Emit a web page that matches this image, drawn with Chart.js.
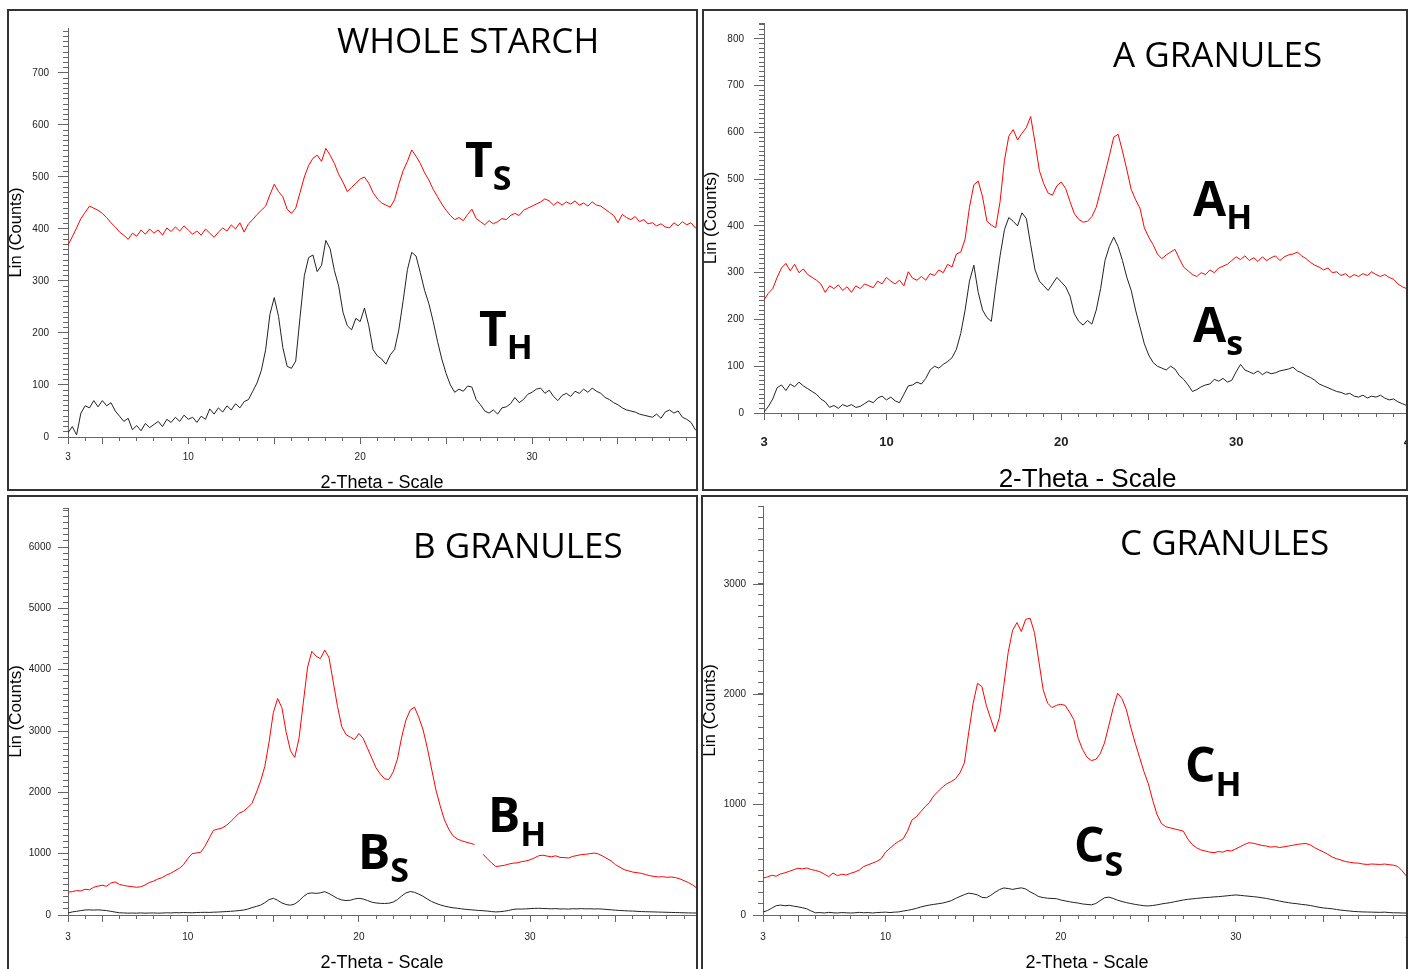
<!DOCTYPE html>
<html>
<head>
<meta charset="utf-8">
<script src="https://cdn.jsdelivr.net/npm/chart.js@4.4.1/dist/chart.umd.min.js"></script>
<style>
  body { margin: 0; width: 1410px; height: 969px; overflow: hidden; background: #fff; position: relative; }
  .panel { position: absolute; box-sizing: border-box; border: 2px solid #333; overflow: hidden; background: #fff; }
  .panel canvas { position: absolute; left: 0; top: 0; }
  .title { position: absolute; font-family: 'Open Sans', sans-serif; font-size: 35px; line-height: 35px; white-space: nowrap; color: #000; }
  .tag { position: absolute; font-family: 'Open Sans', sans-serif; font-weight: 700; font-size: 48px; line-height: 48px; white-space: nowrap; color: #000; }
  .tag span { font-size: 34px; position: relative; }
</style>
</head>
<body>
<div class="panel" style="left:7px;top:9px;width:691px;height:482px"><canvas id="c1" width="687" height="478"></canvas></div>
<div class="panel" style="left:702px;top:9px;width:706px;height:482px"><canvas id="c2" width="708" height="478"></canvas></div>
<div class="panel" style="left:7px;top:495px;width:691px;height:480px"><canvas id="c3" width="687" height="476"></canvas></div>
<div class="panel" style="left:701px;top:495px;width:707px;height:480px"><canvas id="c4" width="708" height="476"></canvas></div>

<div class="title" style="left:337px;top:22px">WHOLE STARCH</div>
<div class="title" style="left:1113px;top:36px">A GRANULES</div>
<div class="title" style="left:413px;top:527px">B GRANULES</div>
<div class="title" style="left:1120px;top:524px">C GRANULES</div>

<div class="tag" style="left:465px;top:135px">T<span style="top:13px">S</span></div>
<div class="tag" style="left:479px;top:304px">T<span style="top:13px">H</span></div>
<div class="tag" style="left:1193px;top:174px">A<span style="top:13px">H</span></div>
<div class="tag" style="left:1193px;top:300px">A<span style="top:13px">s</span></div>
<div class="tag" style="left:358px;top:827px">B<span style="top:13px">S</span></div>
<div class="tag" style="left:488px;top:790px">B<span style="top:14px">H</span></div>
<div class="tag" style="left:1185px;top:740px">C<span style="top:14px">H</span></div>
<div class="tag" style="left:1074px;top:820px">C<span style="top:14px">S</span></div>

<script>
// 2-theta positions shared by every pattern
const angles = [
  3, 3.25, 3.5, 3.75, 4, 4.25, 4.5, 4.75, 5, 5.25, 5.5, 5.75, 6, 6.25, 6.5, 6.75, 7, 7.25, 7.5, 7.75,
  8, 8.25, 8.5, 8.75, 9, 9.25, 9.5, 9.75, 10, 10.25, 10.5, 10.75, 11, 11.25, 11.5, 11.75, 12, 12.25, 12.5, 12.75,
  13, 13.25, 13.5, 13.75, 14, 14.25, 14.5, 14.75, 15, 15.25, 15.5, 15.75, 16, 16.25, 16.5, 16.75, 17, 17.25, 17.5, 17.75,
  18, 18.25, 18.5, 18.75, 19, 19.25, 19.5, 19.75, 20, 20.25, 20.5, 20.75, 21, 21.25, 21.5, 21.75, 22, 22.25, 22.5, 22.75,
  23, 23.25, 23.5, 23.75, 24, 24.25, 24.5, 24.75, 25, 25.25, 25.5, 25.75, 26, 26.25, 26.5, 26.75, 27, 27.25, 27.5, 27.75,
  28, 28.25, 28.5, 28.75, 29, 29.25, 29.5, 29.75, 30, 30.25, 30.5, 30.75, 31, 31.25, 31.5, 31.75, 32, 32.25, 32.5, 32.75,
  33, 33.25, 33.5, 33.75, 34, 34.25, 34.5, 34.75, 35, 35.25, 35.5, 35.75, 36, 36.25, 36.5, 36.75, 37, 37.25, 37.5, 37.75,
  38, 38.25, 38.5, 38.75, 39, 39.25, 39.5, 39.75, 40,
];

// whole starch
const wholeStarchTs = [
  369, 385, 402, 420, 432, 444, 440, 436, 430, 422, 412, 404, 394, 388, 380, 392, 386, 398, 390, 400,
  392, 398, 388, 402, 395, 404, 396, 406, 398, 390, 396, 388, 400, 392, 384, 394, 402, 396, 408, 400,
  412, 394, 410, 418, 428, 436, 444, 466, 486, 472, 462, 438, 430, 440, 470, 500, 522, 536, 542, 530,
  555, 542, 526, 505, 490, 472, 480, 488, 496, 500, 488, 470, 458, 450, 446, 442, 456, 486, 512, 530,
  552, 540, 526, 508, 494, 476, 462, 448, 436, 426, 418, 422, 416, 428, 438, 420, 414, 408, 416, 410,
  414, 420, 418, 426, 430, 426, 436, 440, 444, 448, 452, 458, 454, 446, 452, 446, 452, 448, 454, 446,
  450, 444, 452, 446, 444, 438, 432, 426, 412, 428, 422, 418, 424, 414, 418, 410, 412, 406, 410, 404,
  402, 412, 406, 414, 408, 412, 402, 404, 400,
];
const wholeStarchTh = [
  8, 20, 4, 46, 60, 56, 70, 58, 70, 60, 66, 50, 40, 30, 36, 14, 22, 12, 26, 18,
  24, 30, 20, 34, 28, 38, 30, 42, 34, 38, 28, 40, 34, 54, 44, 56, 48, 60, 52, 64,
  56, 68, 72, 88, 104, 128, 168, 236, 268, 232, 172, 136, 132, 146, 230, 310, 345, 350, 318, 330,
  378, 362, 320, 290, 240, 214, 206, 228, 222, 248, 214, 168, 156, 150, 140, 158, 168, 206, 262, 322,
  355, 348, 316, 282, 256, 222, 184, 150, 122, 100, 86, 92, 88, 98, 96, 72, 62, 50, 46, 52,
  44, 56, 58, 64, 76, 66, 72, 82, 86, 92, 94, 84, 90, 78, 70, 80, 84, 78, 88, 84,
  92, 86, 94, 88, 84, 76, 72, 66, 62, 56, 52, 50, 48, 44, 42, 40, 38, 44, 36, 48,
  52, 46, 50, 38, 34, 28, 14, 10, 8,
];

// A granules
const aGranulesAh = [
  242, 256, 266, 290, 310, 320, 304, 318, 300, 308, 296, 290, 284, 276, 258, 272, 266, 274, 262, 270,
  258, 272, 266, 276, 272, 268, 282, 276, 290, 282, 276, 284, 272, 302, 288, 284, 292, 284, 298, 294,
  306, 300, 318, 312, 340, 344, 372, 440, 488, 496, 462, 410, 402, 396, 452, 540, 592, 606, 584, 598,
  610, 634, 578, 518, 490, 470, 466, 486, 494, 480, 452, 426, 414, 408, 410, 420, 440, 476, 512, 550,
  590, 596, 560, 520, 478, 456, 438, 396, 376, 360, 340, 330, 338, 344, 350, 330, 312, 304, 296, 292,
  300, 296, 306, 300, 310, 314, 318, 326, 334, 328, 336, 326, 332, 324, 334, 326, 332, 336, 326, 334,
  338, 340, 344, 336, 330, 322, 316, 312, 306, 310, 300, 302, 294, 298, 290, 296, 292, 298, 294, 302,
  296, 292, 296, 290, 286, 276, 270, 266, 264,
];
const aGranulesAs = [
  2, 14, 30, 54, 60, 48, 62, 56, 66, 58, 52, 46, 40, 30, 24, 12, 16, 10, 18, 14,
  18, 12, 14, 20, 26, 22, 32, 36, 28, 34, 26, 22, 40, 58, 60, 66, 62, 74, 92, 100,
  96, 104, 110, 118, 136, 170, 220, 282, 316, 258, 220, 204, 196, 270, 336, 392, 418, 410, 400, 428,
  416, 360, 306, 282, 272, 262, 276, 290, 280, 270, 250, 212, 196, 188, 198, 190, 220, 266, 326, 356,
  376, 356, 326, 290, 262, 220, 184, 148, 124, 108, 100, 96, 92, 100, 94, 80, 72, 60, 46, 50,
  56, 60, 62, 72, 68, 74, 66, 70, 88, 104, 92, 88, 84, 90, 82, 88, 84, 86, 90, 92,
  94, 98, 90, 86, 80, 76, 70, 62, 58, 54, 50, 46, 44, 40, 42, 36, 34, 38, 32, 36,
  34, 38, 32, 28, 30, 24, 20, 16, 14,
];

// B granules (null = gap in the trace)
const bGranulesBh = [
  375, 380, 398, 392, 420, 410, 452, 470, 486, 468, 520, 540, 500, 482, 470, 462, 452, 460, 488, 530,
  552, 586, 610, 650, 680, 720, 760, 820, 920, 1000, 1012, 1020, 1120, 1250, 1380, 1400, 1418, 1460, 1520, 1590,
  1660, 1690, 1750, 1820, 1990, 2180, 2420, 2820, 3300, 3530, 3380, 2980, 2680, 2570, 2880, 3460, 4040, 4300, 4220, 4180,
  4320, 4200, 3800, 3400, 3070, 2940, 2900, 2860, 2960, 2880, 2720, 2560, 2400, 2300, 2220, 2210, 2330, 2540, 2900, 3180,
  3340, 3390, 3220, 3020, 2720, 2380, 2040, 1780, 1550, 1400, 1290, 1240, 1210, 1190, 1170, 1150, null, 990, 920, 850,
  790, 800, 810, 830, 845, 850, 870, 880, 900, 930, 965, 975, 960, 950, 965, 940, 935, 930, 955, 970,
  985, 990, 1000, 1010, 995, 960, 920, 880, 820, 780, 740, 720, 700, 690, 680, 660, 640, 630, 620, 625,
  615, 620, 610, 590, 560, 530, 490, 440, 420,
];
const bGranulesBs = [
  33, 50, 60, 72, 82, 84, 80, 84, 78, 72, 60, 48, 36, 34, 30, 32, 30, 34, 30, 32,
  34, 30, 32, 36, 34, 38, 36, 40, 38, 36, 40, 42, 44, 42, 46, 48, 52, 56, 60, 66,
  72, 80, 96, 120, 140, 160, 200, 250, 272, 240, 196, 170, 160, 180, 230, 300, 350, 360, 352, 362,
  380, 350, 310, 270, 245, 236, 240, 262, 272, 260, 236, 210, 196, 190, 188, 192, 210, 250, 310, 360,
  382, 370, 340, 305, 260, 220, 190, 165, 145, 130, 118, 110, 100, 92, 86, 80, 74, 70, 64, 56,
  50, 54, 62, 74, 90, 98, 96, 100, 104, 108, 110, 106, 104, 100, 104, 98, 100, 96, 102, 100,
  104, 100, 102, 98, 100, 96, 90, 84, 78, 74, 70, 66, 64, 60, 56, 54, 52, 50, 48, 46,
  44, 42, 40, 38, 36, 34, 33, 32, 30,
];

// C granules
const cGranulesCh = [
  335, 345, 360, 352, 372, 382, 396, 410, 424, 418, 426, 412, 404, 392, 370, 348, 380, 356, 370, 362,
  378, 390, 408, 440, 455, 470, 486, 510, 570, 605, 640, 668, 690, 760, 860, 890, 935, 980, 1020, 1080,
  1120, 1160, 1190, 1210, 1235, 1290, 1380, 1660, 1920, 2100, 2070, 1900, 1780, 1660, 1790, 2080, 2380, 2580, 2650, 2570,
  2680, 2690, 2560, 2300, 2040, 1920, 1880, 1900, 1910, 1900, 1840, 1770, 1600, 1500, 1430, 1400, 1410, 1460, 1560, 1720,
  1880, 2010, 1960, 1860, 1700, 1560, 1430, 1300, 1190, 1040, 910, 830, 800, 790, 780, 770, 760, 690, 640, 610,
  590, 580, 570, 565, 575, 570, 585, 580, 600, 620, 640, 655, 650, 640, 630, 625, 615, 620, 612, 618,
  625, 632, 640, 645, 648, 635, 610, 590, 572, 550, 525, 510, 498, 485, 478, 472, 470, 462, 458, 462,
  460, 458, 462, 456, 452, 440, 400, 350, 330,
];
const cGranulesCs = [
  27, 40, 62, 84, 90, 84, 88, 80, 74, 66, 56, 36, 20, 22, 18, 24, 20, 18, 22, 20,
  18, 20, 24, 20, 22, 18, 22, 24, 26, 22, 26, 28, 36, 42, 50, 60, 72, 82, 90, 96,
  102, 108, 118, 130, 150, 168, 185, 198, 192, 182, 160, 156, 178, 206, 230, 245, 240, 232, 240, 246,
  236, 210, 190, 166, 158, 152, 150, 148, 136, 128, 120, 114, 108, 100, 96, 92, 104, 130, 156, 162,
  150, 134, 122, 112, 104, 96, 90, 84, 82, 86, 92, 100, 106, 112, 120, 128, 136, 142, 146, 150,
  154, 158, 160, 164, 166, 170, 174, 178, 182, 178, 174, 170, 166, 162, 156, 150, 142, 134, 126, 118,
  112, 106, 102, 96, 92, 86, 78, 70, 64, 60, 56, 50, 44, 40, 36, 32, 30, 28, 27, 26,
  25, 24, 26, 22, 20, 20, 18, 18, 16,
];

// tick labels
const majorAngleTicks = [3, 5, 10, 15, 20, 25, 30, 35, 40];
const labelledAngles = [3, 10, 20, 30, 40];
const wholeStarchCounts = [0, 100, 200, 300, 400, 500, 600, 700];
const aGranulesCounts = [0, 100, 200, 300, 400, 500, 600, 700, 800];
const bGranulesCounts = [0, 1000, 2000, 3000, 4000, 5000, 6000];
const cGranulesCounts = [0, 1000, 2000, 3000];

Chart.defaults.font.family = "'Liberation Sans', Arial, sans-serif";
const axisColor = '#666';

function points(values) {
  return angles.map((a, i) => ({ x: a, y: values[i] }));
}

// keep the plot area exactly where the axes sit in the picture
function noPad(s) {
  s.paddingLeft = 0;
  s.paddingRight = 0;
  s.paddingTop = 0;
  s.paddingBottom = 0;
}

function makeChart(id, p) {
  return new Chart(document.getElementById(id), {
    type: 'line',
    data: {
      datasets: [
        { data: points(p.red), borderColor: '#ff0000', borderWidth: 1, pointRadius: 0, xAxisID: 'x', yAxisID: 'y' },
        { data: points(p.black), borderColor: '#222', borderWidth: 1, pointRadius: 0, xAxisID: 'x', yAxisID: 'y' },
      ],
    },
    options: {
      responsive: false,
      animation: false,
      events: [],
      layout: { autoPadding: false, padding: { top: p.top, right: p.right, bottom: 0, left: 0 } },
      plugins: { legend: { display: false }, tooltip: { enabled: false } },
      scales: {
        x: {
          type: 'linear', axis: 'x', position: 'bottom', weight: 1, bounds: 'data',
          min: 3, max: p.xMax,
          afterBuildTicks: s => { s.ticks = majorAngleTicks.filter(v => v <= p.xMax).map(v => ({ value: v })); },
          ticks: {
            autoSkip: false, maxRotation: 0, padding: p.xPad, color: '#222',
            font: { size: p.xFont, weight: p.xBold ? 'bold' : 'normal' },
            callback: v => labelledAngles.includes(v) ? String(v) : '',
          },
          grid: { drawOnChartArea: false, tickLength: 7, color: axisColor },
          border: { color: axisColor },
          title: { display: true, text: '2-Theta - Scale', color: '#000', font: { size: p.xTitle, lineHeight: 1 }, padding: { top: 0, bottom: p.xTitlePad } },
          afterFit: s => { s.height = p.bottomH; noPad(s); },
        },
        xMinor: {
          type: 'linear', axis: 'x', position: 'bottom', weight: 0, bounds: 'data',
          min: 3, max: p.xMax,
          ticks: { stepSize: 1, display: false, autoSkip: false, includeBounds: false },
          grid: { drawOnChartArea: false, tickLength: 4, color: axisColor },
          border: { display: false },
          afterFit: s => { s.height = 0; noPad(s); },
        },
        y: {
          type: 'linear', axis: 'y', position: 'left', weight: 1, bounds: 'data',
          min: 0, max: p.yMax,
          afterBuildTicks: s => { s.ticks = p.yTicks.map(v => ({ value: v })); },
          ticks: { autoSkip: false, padding: p.yPad, color: '#222', font: { size: 10 }, callback: v => String(v) },
          grid: { drawOnChartArea: false, tickLength: 10, color: axisColor },
          border: { color: axisColor },
          title: { display: true, text: 'Lin (Counts)', color: '#000', font: { size: p.yTitle, lineHeight: 1 }, padding: { top: -1, bottom: 0 } },
          afterFit: s => { s.width = p.left; noPad(s); },
        },
        yMinor: {
          type: 'linear', axis: 'y', position: 'left', weight: 0, bounds: 'data',
          min: 0, max: p.yMax,
          ticks: { stepSize: p.yMinor, display: false, autoSkip: false, includeBounds: false },
          grid: { drawOnChartArea: false, tickLength: 5, color: axisColor },
          border: { display: false },
          afterFit: s => { s.width = 0; noPad(s); },
        },
      },
    },
  });
}

makeChart('c1', {
  red: wholeStarchTs, black: wholeStarchTh, yTicks: wholeStarchCounts,
  xMax: 39.54, yMax: 786.5, yMinor: 10,
  left: 59, top: 17, right: 0, bottomH: 52,
  xFont: 10, xBold: false, xPad: 7, yPad: 9, xTitle: 18, xTitlePad: -3, yTitle: 16.5,
});
makeChart('c2', {
  red: aGranulesAh, black: aGranulesAs, yTicks: aGranulesCounts,
  xMax: 40, yMax: 834, yMinor: 10,
  left: 60, top: 12, right: 1, bottomH: 76,
  xFont: 13, xBold: true, xPad: 15, yPad: 10, xTitle: 26, xTitlePad: -4, yTitle: 17,
});
makeChart('c3', {
  red: bGranulesBh, black: bGranulesBs, yTicks: bGranulesCounts,
  xMax: 39.7, yMax: 6636, yMinor: 100,
  left: 59, top: 11, right: 0, bottomH: 58,
  xFont: 10, xBold: false, xPad: 9, yPad: 7, xTitle: 18, xTitlePad: 1, yTitle: 17,
});
makeChart('c4', {
  red: cGranulesCh, black: cGranulesCs, yTicks: cGranulesCounts,
  xMax: 40, yMax: 3707, yMinor: 100,
  left: 60, top: 9, right: 0, bottomH: 58,
  xFont: 10, xBold: false, xPad: 9, yPad: 7, xTitle: 18, xTitlePad: 1, yTitle: 17,
});
</script>
</body>
</html>
